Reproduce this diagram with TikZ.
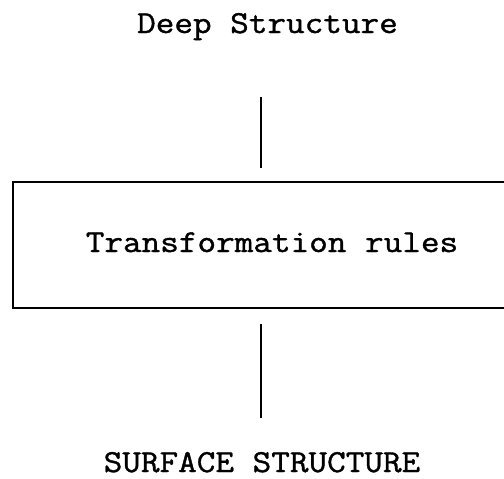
\documentclass[tikz,border=0pt]{standalone}
\usepackage{fontspec}
\newfontfamily\typew[FakeStretch=1.13,FakeBold=1.2]{Latin Modern Mono}
\begin{document}
\begin{tikzpicture}[x=1pt,y=-1pt,
  lbl/.style={font=\typew\fontsize{32}{32}\selectfont, anchor=base, inner sep=0pt},
  ln/.style={line width=2pt}]
\useasboundingbox (0,0) rectangle (504,479);
\clip (0,0) rectangle (504,479);
\node[lbl] (deep) at (267.5,33) {Deep Structure};
\node[lbl] (rules) at (272,252) {Transformation rules};
\node[lbl, text depth=0pt] (surf) at (262,472) {SURFACE STRUCTURE};
\draw[ln] (13,182) rectangle (520,308);
\coordinate (a1) at (261,97);
\coordinate (a2) at (261,168);
\coordinate (b1) at (261,324);
\coordinate (b2) at (261,418);
\draw[ln] (a1) -- (a2);
\draw[ln] (b1) -- (b2);
\end{tikzpicture}
\end{document}
